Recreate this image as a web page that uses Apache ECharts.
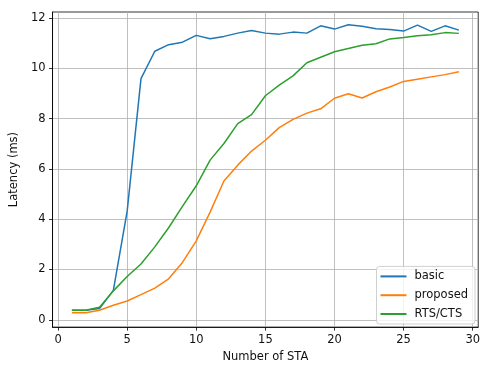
<!DOCTYPE html>
<html><head><meta charset="utf-8">
<script src="https://cdn.jsdelivr.net/npm/echarts@6/dist/echarts.min.js"></script>
<style>html,body{margin:0;padding:0;background:#fff}#c{width:483px;height:368px}</style>
</head><body><div id="c"></div>
<script>
const nSta = [1,2,3,4,5,6,7,8,9,10,11,12,13,14,15,16,17,18,19,20,21,22,23,24,25,26,27,28,29];
const basic = [0.38,0.38,0.45,1.17,4.32,9.59,10.68,10.94,11.04,11.31,11.18,11.27,11.4,11.5,11.4,11.36,11.44,11.4,11.69,11.56,11.73,11.67,11.57,11.54,11.48,11.72,11.47,11.69,11.52];
const proposed = [0.28,0.28,0.38,0.58,0.75,1.0,1.26,1.63,2.28,3.14,4.28,5.52,6.15,6.71,7.14,7.64,7.97,8.22,8.39,8.81,8.99,8.82,9.07,9.26,9.48,9.57,9.66,9.75,9.86];
const rtscts = [0.38,0.38,0.5,1.15,1.72,2.22,2.9,3.66,4.51,5.33,6.35,7.01,7.8,8.16,8.91,9.33,9.7,10.22,10.44,10.66,10.79,10.92,10.98,11.17,11.23,11.3,11.34,11.42,11.39];
const xTicks = [0,5,10,15,20,25,30];
const yTicks = [0,2,4,6,8,10,12];

const font = 'DejaVu Sans';
const fs = 11.5;
const txt = '#111';
const chart = echarts.init(document.getElementById('c'), null, {renderer:'canvas'});
const mk = (name, data, color) => ({
  name, type:'line', data: nSta.map((x,i)=>[x,data[i]]), symbol:'none',
  lineStyle:{color, width:1.5}, itemStyle:{color}, animation:false, z:3
});
chart.setOption({
  animation:false,
  grid:{left:51, right:1, top:12, bottom:37, show:true, borderColor:'#000', borderWidth:0.8, containLabel:false},
  xAxis:{type:'value', min:-0.4, max:30.4,
    name:'Number of STA', nameLocation:'middle', nameGap:23,
    nameTextStyle:{fontFamily:font, fontSize:fs, color:txt},
    axisLine:{show:true, onZero:false, lineStyle:{color:'#000', width:0.8}},
    axisTick:{show:true, inside:false, length:3.5, customValues:xTicks, lineStyle:{color:'#000', width:0.8}},
    axisLabel:{customValues:xTicks, fontFamily:font, fontSize:fs, color:txt, margin:7},
    splitLine:{show:true, lineStyle:{color:'#b0b0b0', width:0.8}}
  },
  yAxis:{type:'value', min:-0.29, max:12.24,
    name:'Latency (ms)', nameLocation:'middle', nameGap:28,
    nameTextStyle:{fontFamily:font, fontSize:fs, color:txt},
    axisLine:{show:true, onZero:false, lineStyle:{color:'#000', width:0.8}},
    axisTick:{show:true, inside:false, length:3.5, customValues:yTicks, lineStyle:{color:'#000', width:0.8}},
    axisLabel:{customValues:yTicks, fontFamily:font, fontSize:fs, color:txt, margin:7},
    splitLine:{show:true, lineStyle:{color:'#b0b0b0', width:0.8}}
  },
  legend:{orient:'vertical', right:8, bottom:44, padding:[4,7,4,4],
    backgroundColor:'rgba(255,255,255,0.8)', borderColor:'#d0d0d0', borderWidth:1, borderRadius:3,
    itemWidth:26, itemHeight:2, itemGap:6.8, icon:'rect',
    textStyle:{fontFamily:font, fontSize:fs, color:txt, padding:[0,0,0,3]},
    data:['basic','proposed','RTS/CTS']},
  series:[mk('basic',basic,'#1f77b4'), mk('proposed',proposed,'#ff7f0e'), mk('RTS/CTS',rtscts,'#2ca02c')]
});
</script></body></html>
